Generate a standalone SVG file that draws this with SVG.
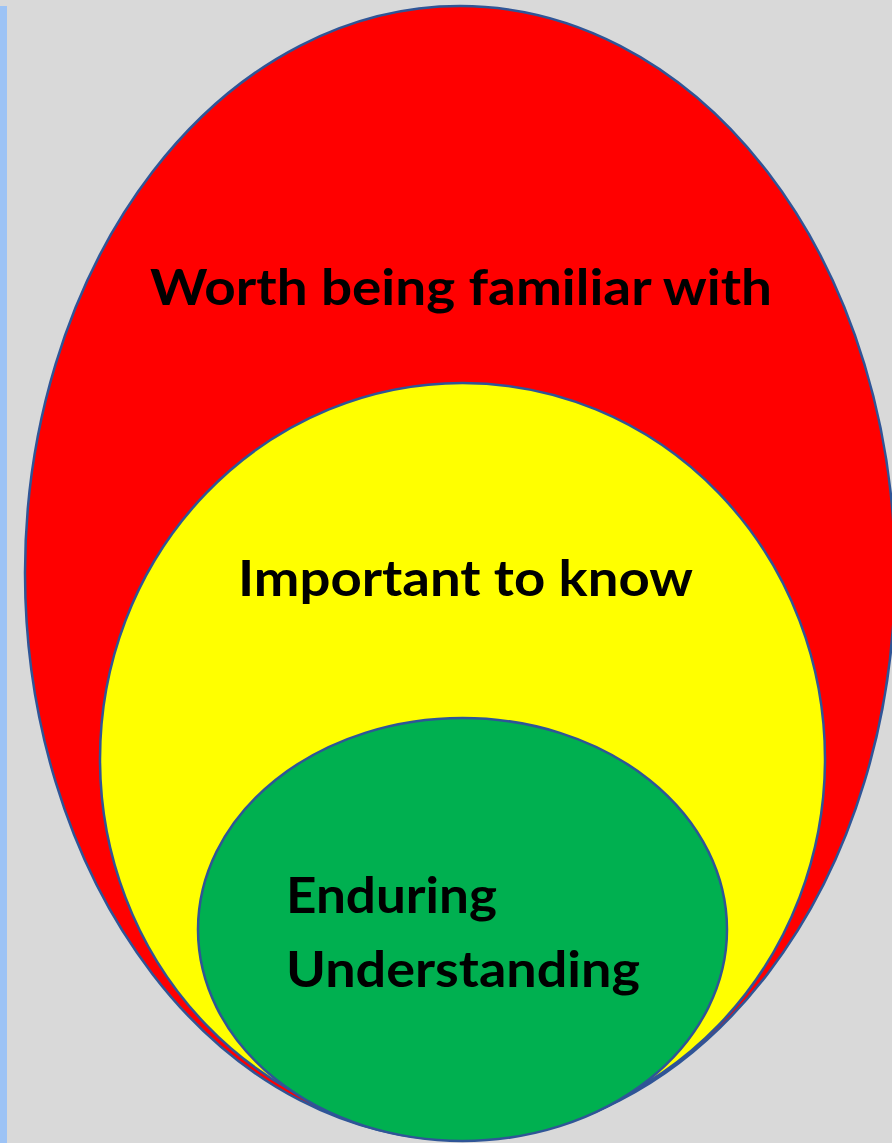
<svg xmlns="http://www.w3.org/2000/svg" width="892" height="1143" viewBox="0 0 892 1143">
<style>
.ring{stroke:#2f5597;stroke-width:2.5}
.lbl{font-family:Lato,"Open Sans","Liberation Sans",sans-serif;font-weight:bold;font-size:50px;fill:#000}
</style>
<rect x="0" y="0" width="892" height="1143" fill="#d9d9d9"/>
<rect x="0" y="6" width="7" height="1137" fill="#9dc3f5"/>
<g id="worth">
<ellipse class="ring" cx="460" cy="573" rx="435" ry="567" fill="#ff0000"/>
<text class="lbl" x="150" y="305" textLength="622" lengthAdjust="spacingAndGlyphs">Worth being familiar with</text>
</g>
<g id="important">
<ellipse class="ring" cx="462.5" cy="759" rx="362.5" ry="376" fill="#ffff00"/>
<text class="lbl" x="238" y="596" textLength="455" lengthAdjust="spacingAndGlyphs">Important to know</text>
</g>
<g id="enduring">
<ellipse class="ring" cx="462.5" cy="929.5" rx="264.5" ry="211.5" fill="#00b050"/>
<text class="lbl" x="286" y="913" textLength="211" lengthAdjust="spacingAndGlyphs">Enduring</text>
<text class="lbl" x="286" y="987" textLength="354" lengthAdjust="spacingAndGlyphs">Understanding</text>
</g>
<g id="connectors"/>
</svg>
